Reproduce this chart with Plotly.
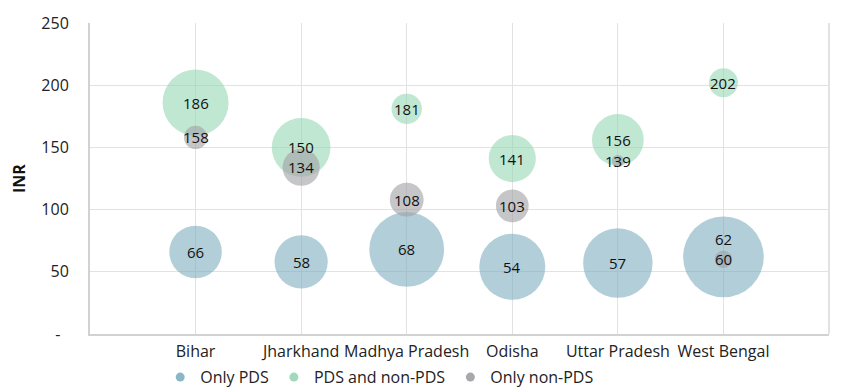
import plotly.graph_objects as go

states = ["Bihar", "Jharkhand", "Madhya Pradesh", "Odisha", "Uttar Pradesh", "West Bengal"]
x_pos = [1, 2, 3, 4, 5, 6]

only_pds = [66, 58, 68, 54, 57, 62]
pds_and_non = [186, 150, 181, 141, 156, 202]
only_non = [158, 134, 108, 103, 139, 60]

# bubble sizes (share of households, %)
size_only_pds = [36, 37, 73, 57, 63, 85]
size_pds_and_non = [57, 45, 12, 29, 35, 11]
size_only_non = [7, 18, 15, 14, 2, 4]

y_ticks = [0, 50, 100, 150, 200, 250]
y_ticktext = ["-\u00a0\u00a0", "50", "100", "150", "200", "250"]

series = [
    ("Only PDS", only_pds, size_only_pds, "rgba(125,175,192,0.85)", "#8ab7c6"),
    ("PDS and non-PDS", pds_and_non, size_pds_and_non, "rgba(150,214,180,0.85)", "#a0dabb"),
    ("Only non-PDS", only_non, size_only_non, "rgba(160,160,165,0.85)", "#a8a8ac"),
]

FONT = "Open Sans"
D100 = 87.5
sizeref = 2 * 100 / D100 ** 2

fig = go.Figure()
for name, vals, sizes, col, legcol in series:
    fig.add_trace(go.Scatter(
        x=x_pos, y=vals, mode="markers", name=name, showlegend=False,
        marker=dict(size=sizes, sizemode="area", sizeref=sizeref, color=col,
                    line=dict(width=0)),
        hoverinfo="skip",
    ))
for name, vals, sizes, col, legcol in series:
    fig.add_trace(go.Scatter(
        x=[None], y=[None], mode="markers", name=name,
        marker=dict(size=9, color=legcol),
    ))

# data labels
label_shift = {("Only PDS", 5): 18}
for name, vals, sizes, col, legcol in series:
    for i, v in enumerate(vals):
        fig.add_annotation(
            x=x_pos[i], y=v, text=str(v), showarrow=False,
            font=dict(family=FONT, size=15, color="#111111"),
            yshift=label_shift.get((name, i), 0),
        )

fig.update_layout(
    width=850, height=387,
    margin=dict(l=82, r=29, t=15, b=61, autoexpand=False),
    paper_bgcolor="white", plot_bgcolor="white",
    font=dict(family=FONT, size=16, color="#222222"),
    showlegend=True,
    legend=dict(orientation="h", x=0.095, xanchor="left",
                yref="container", y=0.09, yanchor="top",
                bgcolor="rgba(0,0,0,0)",
                font=dict(family=FONT, size=16, color="#222222"),
                itemclick=False, itemdoubleclick=False, tracegroupgap=0),
    xaxis=dict(
        range=[0, 7], tickvals=x_pos, ticktext=states, automargin=False,
        showgrid=True, gridcolor="#e2e2e2", gridwidth=1,
        showline=True, linecolor="#d2d2d2", linewidth=2, mirror=False,
        zeroline=False, ticks="", ticklabelstandoff=2,
        tickfont=dict(family=FONT, size=16, color="#222222"),
    ),
    yaxis=dict(
        range=[0, 250], tickvals=y_ticks, ticktext=y_ticktext, automargin=False,
        showgrid=True, gridcolor="#e2e2e2", gridwidth=1,
        showline=True, linecolor="#d2d2d2", linewidth=2,
        zeroline=False, ticks="", ticklabelstandoff=16,
        title=dict(text="<b>INR</b>", font=dict(family=FONT, size=16, color="#111111"), standoff=22),
        tickfont=dict(family=FONT, size=16, color="#222222"),
    ),
    shapes=[dict(type="line", xref="paper", yref="paper", x0=1, x1=1, y0=0, y1=1,
                 line=dict(color="#e2e2e2", width=2))],
)

fig.write_html("out.html")
